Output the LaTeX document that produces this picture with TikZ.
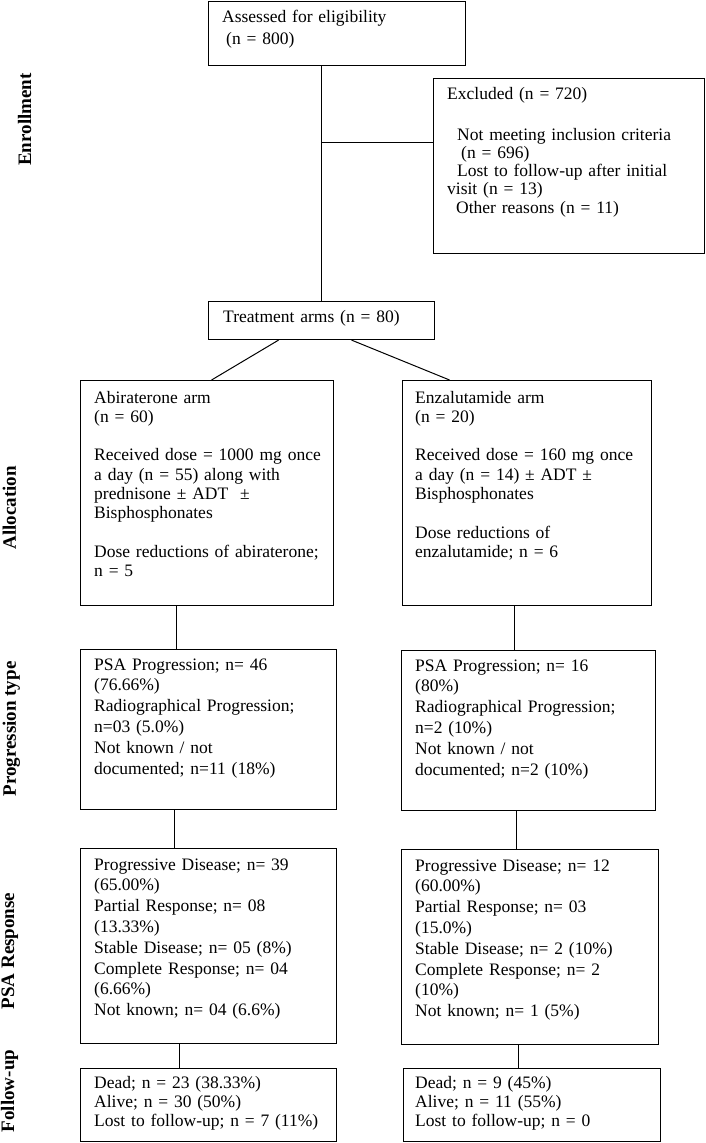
\documentclass[tikz,border=0pt]{standalone}
\usepackage{fontspec}
\setmainfont{Liberation Serif}
\usetikzlibrary{calc}
\begin{document}
\begin{tikzpicture}[x=1pt,y=-1pt,
  box/.style={draw, line width=1.1pt, inner sep=0pt, anchor=north west},
  txt/.style={anchor=base west, inner sep=0pt, text width=300pt, align=left, font=\fontsize{17.5}{20.8}\selectfont},
  conn/.style={draw, line width=1pt},
  lbl/.style={rotate=90, anchor=base, inner sep=0pt, font=\bfseries\fontsize{19}{22}\selectfont}]
\useasboundingbox[fill=white] (0,0) rectangle (705,1143);
% boxes
\node[box, minimum width=257pt, minimum height=64pt] (elig) at (208,1) {};
\node[box, minimum width=271pt, minimum height=175pt] (excl) at (433,78) {};
\node[box, minimum width=226pt, minimum height=38pt] (treat) at (208,301) {};
\node[box, minimum width=253pt, minimum height=225pt] (abi) at (80,380) {};
\node[box, minimum width=249pt, minimum height=225pt] (enz) at (402,380) {};
\node[box, minimum width=256pt, minimum height=160pt] (pprogL) at (80,649) {};
\node[box, minimum width=254pt, minimum height=160pt] (pprogR) at (401,650) {};
\node[box, minimum width=256pt, minimum height=195pt] (presL) at (80,848) {};
\node[box, minimum width=257pt, minimum height=195pt] (presR) at (401,849) {};
\node[box, minimum width=256pt, minimum height=73pt] (fuL) at (80,1068) {};
\node[box, minimum width=257pt, minimum height=73pt] (fuR) at (403,1068) {};
% texts
\node[txt, font=\fontsize{17.5}{21}\selectfont] (eligT) at (222,23) {Assessed for eligibility\\\hspace*{4pt}(n = 800)};
\node[txt, font=\fontsize{17.5}{18.3}\selectfont] (exclT) at (447,99) {Excluded (n = 720)\\[22.7pt]\hspace*{10pt}Not meeting inclusion criteria\\\hspace*{14pt}(n = 696)\\\hspace*{10pt}Lost to follow-up after initial\\visit (n = 13)\\\hspace*{9pt}Other reasons (n = 11)};
\node[txt] (treatT) at (223,322) {Treatment arms (n = 80)};
\node[txt, font=\fontsize{17.5}{19.3}\selectfont] (abiT) at (94,403) {Abiraterone arm\\(n = 60)\\[19.3pt]Received dose = 1000 mg once\\a day (n = 55) along with\\prednisone ± ADT\hspace{12pt}±\\Bisphosphonates\\[19.3pt]Dose reductions of abiraterone;\\n = 5};
\node[txt, font=\fontsize{17.5}{19.3}\selectfont] (enzT) at (415,403) {Enzalutamide arm\\(n = 20)\\[19.3pt]Received dose = 160 mg once\\a day (n = 14) ± ADT ±\\Bisphosphonates\\[19.3pt]Dose reductions of\\enzalutamide; n = 6};
\node[txt] (pprogLT) at (94,670) {PSA Progression; n= 46\\(76.66\%)\\Radiographical Progression;\\n=03 (5.0\%)\\Not known / not\\documented; n=11 (18\%)};
\node[txt] (pprogRT) at (415,671) {PSA Progression; n= 16\\(80\%)\\Radiographical Progression;\\n=2 (10\%)\\Not known / not\\documented; n=2 (10\%)};
\node[txt] (presLT) at (94,870) {Progressive Disease; n= 39\\(65.00\%)\\Partial Response; n= 08\\(13.33\%)\\Stable Disease; n= 05 (8\%)\\Complete Response; n= 04\\(6.66\%)\\Not known; n= 04 (6.6\%)};
\node[txt] (presRT) at (415,871) {Progressive Disease; n= 12\\(60.00\%)\\Partial Response; n= 03\\(15.0\%)\\Stable Disease; n= 2 (10\%)\\Complete Response; n= 2\\(10\%)\\Not known; n= 1 (5\%)};
\node[txt, font=\fontsize{17.5}{19.3}\selectfont] (fuLT) at (94,1088) {Dead; n = 23 (38.33\%)\\Alive; n = 30 (50\%)\\Lost to follow-up; n = 7 (11\%)};
\node[txt, font=\fontsize{17.5}{19.3}\selectfont] (fuRT) at (415,1088) {Dead; n = 9 (45\%)\\Alive; n = 11 (55\%)\\Lost to follow-up; n = 0};
% side labels
\node[lbl] (lEnr) at (31,119.5) {Enrollment};
\node[lbl] (lAll) at (16,508) {Allocation};
\node[lbl] (lProg) at (16,729) {Progression type};
\node[lbl] (lPSA) at (14,951) {PSA Response};
\node[lbl] (lFU) at (14,1091) {Follow-up};
% connectors
\coordinate (jx) at (321,142);
\draw[conn] (elig.south -| treat.north) -- (treat.north);
\draw[conn] (jx) -- (jx -| excl.west);
\draw[conn] ([xshift=-43pt]treat.south) -- ([xshift=4.5pt]abi.north);
\draw[conn] ([xshift=30pt]treat.south) -- ([xshift=-77.5pt]enz.north);
\draw[conn] ([xshift=-30.5pt]abi.south) -- ([xshift=-30.5pt]abi.south |- pprogL.north);
\draw[conn] ([xshift=-12.5pt]enz.south) -- ([xshift=-12.5pt]enz.south |- pprogR.north);
\draw[conn] ([xshift=-34pt]pprogL.south) -- ([xshift=-34pt]pprogL.south |- presL.north);
\draw[conn] ([xshift=-12pt]pprogR.south) -- ([xshift=-12pt]pprogR.south |- presR.north);
\draw[conn] ([xshift=-29pt]presL.south) -- ([xshift=-29pt]presL.south |- fuL.north);
\draw[conn] ([xshift=-11.5pt]presR.south) -- ([xshift=-11.5pt]presR.south |- fuR.north);
\end{tikzpicture}
\end{document}
